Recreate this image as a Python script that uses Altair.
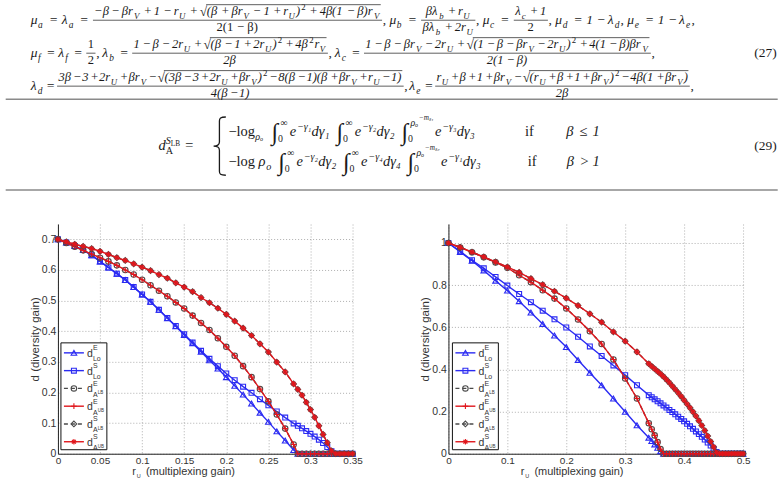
import altair as alt
import pandas as pd

SANS = "Liberation Sans"
SERIF = "Liberation Serif"

# ---------------- data: left panel ----------------
L_r_main = [0.00, 0.01, 0.02, 0.03, 0.04, 0.05, 0.06, 0.07, 0.08, 0.09, 0.10, 0.11, 0.12, 0.13, 0.14,
            0.15, 0.16, 0.17, 0.18, 0.19, 0.20, 0.21, 0.22, 0.23, 0.24, 0.25, 0.26, 0.27, 0.28]
L_r_tail = [0.285, 0.29, 0.295, 0.30, 0.305, 0.31, 0.315, 0.32, 0.325, 0.33, 0.335, 0.34, 0.345, 0.35]

L_E_Lo = [0.700, 0.690, 0.678, 0.665, 0.648, 0.628, 0.608, 0.588, 0.567, 0.544, 0.520, 0.496, 0.470, 0.442, 0.416,
          0.388, 0.361, 0.333, 0.305, 0.278, 0.250, 0.222, 0.193, 0.164, 0.134, 0.104, 0.073, 0.043, 0.012]
L_E_Lo_tail = [0, 0, 0, 0, 0, 0, 0, 0, 0, 0, 0, 0, 0, 0]
L_S_Lo = [0.700, 0.690, 0.678, 0.665, 0.648, 0.628, 0.608, 0.588, 0.567, 0.544, 0.520, 0.496, 0.470, 0.443, 0.417,
          0.390, 0.363, 0.336, 0.310, 0.286, 0.262, 0.240, 0.219, 0.199, 0.178, 0.158, 0.138, 0.118, 0.099]
L_S_Lo_tail = [0.091, 0.083, 0.074, 0.065, 0.056, 0.046, 0.035, 0.022, 0.008, 0, 0, 0, 0, 0]
L_E_A = [0.700, 0.688, 0.676, 0.664, 0.652, 0.640, 0.628, 0.615, 0.600, 0.585, 0.568, 0.550, 0.532, 0.514, 0.494,
         0.474, 0.451, 0.427, 0.404, 0.377, 0.349, 0.320, 0.286, 0.250, 0.211, 0.171, 0.128, 0.082, 0.030]
L_E_A_tail = [0, 0, 0, 0, 0, 0, 0, 0, 0, 0, 0, 0, 0, 0]
L_S_A = [0.700, 0.692, 0.684, 0.677, 0.670, 0.661, 0.651, 0.640, 0.631, 0.620, 0.609, 0.598, 0.585, 0.573, 0.558,
         0.544, 0.529, 0.510, 0.493, 0.475, 0.455, 0.433, 0.410, 0.386, 0.359, 0.332, 0.299, 0.267, 0.228]
L_S_A_tail = [0.210, 0.191, 0.168, 0.144, 0.119, 0.091, 0.063, 0.036, 0.009, 0, 0, 0, 0, 0]

# ---------------- data: right panel ----------------
R_r_main = [0.00, 0.02, 0.04, 0.06, 0.08, 0.10, 0.12, 0.14, 0.16, 0.18, 0.20, 0.22, 0.24, 0.26, 0.28, 0.30, 0.32, 0.34]
R_r_tail = [0.345, 0.35, 0.355, 0.36, 0.365, 0.37, 0.375, 0.38, 0.385, 0.39, 0.395, 0.40, 0.405, 0.41, 0.415, 0.42,
            0.425, 0.43, 0.435, 0.44, 0.445, 0.45, 0.455, 0.46, 0.465, 0.47, 0.475, 0.48, 0.485, 0.49, 0.495, 0.50]

R_E_Lo = [1.000, 0.957, 0.916, 0.870, 0.821, 0.774, 0.724, 0.670, 0.616, 0.561, 0.506, 0.445, 0.384, 0.325, 0.262,
          0.199, 0.135, 0.076]
R_E_Lo_tail = [0.060, 0.044, 0.028, 0.012, 0, 0, 0, 0, 0, 0, 0, 0, 0, 0, 0, 0,
               0, 0, 0, 0, 0, 0, 0, 0, 0, 0, 0, 0, 0, 0, 0, 0]
R_S_Lo = [1.000, 0.960, 0.918, 0.880, 0.839, 0.798, 0.758, 0.719, 0.679, 0.638, 0.599, 0.555, 0.509, 0.464, 0.419,
          0.373, 0.325, 0.278]
R_S_Lo_tail = [0.268, 0.258, 0.249, 0.239, 0.229, 0.219, 0.208, 0.198, 0.187, 0.176, 0.165, 0.154, 0.142, 0.130,
               0.118, 0.106, 0.093, 0.080, 0.067, 0.053, 0.039, 0.024, 0.008, 0, 0, 0, 0, 0, 0, 0, 0, 0]
R_E_A = [1.000, 0.979, 0.956, 0.932, 0.908, 0.882, 0.847, 0.814, 0.776, 0.736, 0.689, 0.637, 0.581, 0.521, 0.447,
         0.357, 0.262, 0.145]
R_E_A_tail = [0.116, 0.087, 0.055, 0.022, 0, 0, 0, 0, 0, 0, 0, 0, 0, 0, 0, 0,
              0, 0, 0, 0, 0, 0, 0, 0, 0, 0, 0, 0, 0, 0, 0, 0]
R_S_A = [1.000, 0.979, 0.957, 0.934, 0.910, 0.886, 0.861, 0.831, 0.802, 0.771, 0.738, 0.703, 0.664, 0.624, 0.578,
         0.534, 0.483, 0.427]
R_S_A_tail = [0.415, 0.403, 0.391, 0.379, 0.366, 0.352, 0.337, 0.321, 0.305, 0.289, 0.272, 0.254, 0.236, 0.218,
              0.199, 0.179, 0.157, 0.134, 0.110, 0.084, 0.058, 0.032, 0.006, 0, 0, 0, 0, 0, 0, 0, 0, 0]

L_xticks = [0, 0.05, 0.1, 0.15, 0.2, 0.25, 0.3, 0.35]
L_yticks = [0, 0.1, 0.2, 0.3, 0.4, 0.5, 0.6, 0.7]
R_xticks = [0, 0.1, 0.2, 0.3, 0.4, 0.5]
R_yticks = [0, 0.2, 0.4, 0.6, 0.8, 1.0]

LEGEND = [("E", "Lo", ""), ("S", "Lo", ""), ("E", "A", "LB"), ("E", "A", "UB"), ("S", "A", "LB"), ("S", "A", "UB")]

BLUE = "#2b2bf2"
RED = "#e0161c"
GRAY = "#4a4a4a"
PLUS = "M-1,0L1,0M0,-1L0,1"
STAR = "M-1,0L1,0M0,-1L0,1M-0.7,-0.7L0.7,0.7M-0.7,0.7L0.7,-0.7"
BRACE = ("M0.22,-1C0.03,-1 0,-0.96 0,-0.86L0,-0.14C0,-0.04 -0.08,0 -0.2,0"
         "C-0.08,0 0,0.04 0,0.14L0,0.86C0,0.96 0.03,1 0.22,1")
STYLES = [
    dict(color=BLUE, dash=None, shape="triangle-up", size=32),
    dict(color=BLUE, dash=None, shape="square", size=24),
    dict(color=GRAY, dash=[4, 3], shape="circle", size=30),
    dict(color=RED, dash=None, shape=PLUS, size=32),
    dict(color=GRAY, dash=[4, 3], shape="diamond", size=32),
    dict(color=RED, dash=None, shape=STAR, size=32),
]

ONE = pd.DataFrame({"k": [0]})
PW, PH = 295, 230
OX = 57.3  # page x of the left plot origin (origin of every vconcat row)


def ptxt(t, x, y, fs, color="#333", font=SANS):
    return alt.Chart(ONE).mark_text(text=t, font=font, fontSize=fs, align="left", baseline="alphabetic",
                                    color=color).encode(x=alt.value(x), y=alt.value(y))


def panel(rs, ds, xmax, ymax, xt, yt, anchor, ytitle_x, xtitle_x, dx):
    xaxis = alt.Axis(values=xt, format="~g", grid=True, gridDash=[1, 2], gridColor="#9a9a9a", gridWidth=0.8,
                     ticks=False, labelFont=SANS, labelFontSize=10, labelColor="#333", labelPadding=2,
                     labelFlush=False, labelOverlap=False, domainColor="#222", title=None)
    yaxis = alt.Axis(values=yt, format="~g", grid=True, gridDash=[1, 2], gridColor="#9a9a9a", gridWidth=0.8,
                     ticks=False, labelFont=SANS, labelFontSize=10.5, labelColor="#333", labelPadding=2,
                     labelFlush=False, labelOverlap=False, domainColor="#222",
                     title="d (diversity gain)", titleFont=SANS, titleFontSize=11.5, titleFontWeight="normal",
                     titleColor="#333", titleX=ytitle_x, titleY=PH / 2, titleAngle=270, titleAlign="center",
                     titleBaseline="middle")
    xenc = alt.X("r:Q", scale=alt.Scale(domain=[0, xmax], nice=False, zero=False), axis=xaxis)
    yenc = alt.Y("d:Q", scale=alt.Scale(domain=[0, ymax], nice=False, zero=False), axis=yaxis)
    layers = []
    for i, st in enumerate(STYLES):
        df = pd.DataFrame({"r": rs[i], "d": ds[i]})
        lk = dict(color=st["color"], strokeWidth=1.4)
        if st["dash"]:
            lk["strokeDash"] = st["dash"]
        layers.append(alt.Chart(df).mark_line(**lk).encode(x=xenc, y=yenc))
        layers.append(alt.Chart(df).mark_point(shape=st["shape"], size=st["size"], filled=False,
                                               color=st["color"], strokeWidth=1.1, opacity=1).encode(x=xenc, y=yenc))
    # legend box
    layers.append(alt.Chart(ONE).mark_rect(fill="white", stroke="#111", strokeWidth=1).encode(
        x=alt.value(3 + dx), x2=alt.value(49 + dx), y=alt.value(119), y2=alt.value(226)))
    for i, st in enumerate(STYLES):
        yi = 129 + 17.8 * i
        rk = dict(color=st["color"], strokeWidth=1.4)
        if st["dash"]:
            rk["strokeDash"] = st["dash"]
        layers.append(alt.Chart(ONE).mark_rule(**rk).encode(x=alt.value(6 + dx), x2=alt.value(26 + dx),
                                                            y=alt.value(yi)))
        layers.append(alt.Chart(ONE).mark_point(shape=st["shape"], size=st["size"], filled=False,
                                                color=st["color"], strokeWidth=1.1, opacity=1).encode(
            x=alt.value(16 + dx), y=alt.value(yi)))
        sup, sub, subsub = LEGEND[i]
        layers.append(ptxt("d", 29 + dx, yi + 4, 10.5))
        layers.append(ptxt(sup, 35 + dx, yi - 2.5, 7))
        layers.append(ptxt(sub, 35 + dx, yi + 8.5, 7))
        if subsub:
            layers.append(ptxt(subsub, 40 + dx, yi + 6, 4.5))
    # x title with subscript
    layers.append(ptxt("r", xtitle_x, PH + 21.5, 11))
    layers.append(ptxt("U", xtitle_x + 4.4, PH + 24, 5.5))
    layers.append(ptxt("(multiplexing gain)", xtitle_x + 13.6, PH + 21.5, 11))
    # transparent anchor defining the panel bounds
    layers.append(alt.Chart(ONE).mark_rule(strokeOpacity=0).encode(
        x=alt.value(anchor[0]), x2=alt.value(anchor[1]), y=alt.value(0), y2=alt.value(254)))
    return alt.layer(*layers).properties(width=PW, height=PH)


left = panel([L_r_main + L_r_tail] * 6,
             [L_E_Lo + L_E_Lo_tail, L_S_Lo + L_S_Lo_tail, L_E_A + L_E_A_tail, L_E_A + L_E_A_tail,
              L_S_A + L_S_A_tail, L_S_A + L_S_A_tail],
             0.35, 0.75, L_xticks, L_yticks, (-OX, 335.0), -22.3, 74.5, 0)
right = panel([R_r_main + R_r_tail] * 6,
              [R_E_Lo + R_E_Lo_tail, R_S_Lo + R_S_Lo_tail, R_E_A + R_E_A_tail, R_E_A + R_E_A_tail,
               R_S_A + R_S_A_tail, R_S_A + R_S_A_tail],
              0.5, 1.09, R_xticks, R_yticks, (-56.0, 332.7), -23.3, 72.5, 1)

# ---------------- header: equations (27) and (29) ----------------
SPACES = {" ": 0.25, "\u2009": 0.2, "\u2004": 0.3}
CW = {"(": 0.35, ")": 0.35, "+": 0.58, "−": 0.58,
      "=": 0.58, ",": 0.25, ".": 0.25, "β": 0.55, "λ": 0.52, "μ": 0.55, "ρ": 0.52, "γ": 0.47, "√": 0.55,
      "∞": 0.72, "∫": 0.28, "≤": 0.55, ">": 0.564, "r": 0.42, "a": 0.5, "b": 0.5, "c": 0.44, "d": 0.5,
      "e": 0.44, "f": 0.3, "g": 0.5, "i": 0.28, "l": 0.28, "o": 0.5, "m": 0.72, "n": 0.5, "A": 0.61,
      "U": 0.72, "V": 0.61, "S": 0.5, "L": 0.56, "B": 0.61, "E": 0.61, "ₒ": 0.33, "ₛ": 0.3, "₁": 0.33,
      "₂": 0.33, "₃": 0.33, "₄": 0.33, "²": 0.32}
SK = [1.0]  # stretch factor applied to every explicit space / gap


def tw(s, size):
    t = 0.0
    for c in s:
        if c in SPACES:
            t += SPACES[c] * SK[0]
        else:
            t += CW.get(c, 0.52)
    return t * size


def fix(s):
    unary = s.startswith("~")
    if unary:
        s = s[1:]
    out = ""
    for i, c in enumerate(s):
        if c in "+−" and not (unary and i == 0):
            out += "\u2009" + c + "\u2009"
        elif c == "=":
            out += "\u2004=\u2004"
        else:
            out += c
    return out


def T(s, it=True):
    return ("t", fix(s), it)


def SB(s, it=True):
    return ("sb", s, it)


def SP(s, it=True):
    return ("sp", s, it)


def FR(n, d):
    return ("fr", n, d)


def SQ(inner):
    return ("sq", inner)


def G(w):
    return ("g", w)


def INT(a, b, c=""):
    return ("int", a, b, c)


def put_text(out, x, y, txt, s, it):
    """place a string chunk by chunk; every space is an explicit advance"""
    chunk, cx = "", x
    for c in txt + " ":
        if c in SPACES:
            if chunk and out is not None:
                out.append(("txt", cx, y, chunk, s, it))
            x = cx + tw(chunk, s) + tw(c, s)
            chunk, cx = "", x
        else:
            chunk += c
    return tw(txt, s)


def render(runs, x, y, s, out):
    x0 = x
    for run in runs:
        k = run[0]
        if k == "t":
            x += put_text(out, x, y, run[1], s, run[2])
        elif k == "sb":
            fs = 0.7 * s
            if out is not None:
                out.append(("txt", x, y + 0.3 * s, run[1], fs, run[2]))
            x += tw(run[1], fs) + 0.09 * s
        elif k == "sp":
            fs = 0.7 * s
            if out is not None:
                out.append(("txt", x + 0.06 * s, y - 0.42 * s, run[1], fs, run[2]))
            x += tw(run[1], fs) + 0.1 * s
        elif k == "g":
            x += run[1] * s * SK[0]
        elif k == "fr":
            fs = 0.93 * s
            wn = render(run[1], 0, 0, fs, None)
            wd = render(run[2], 0, 0, fs, None)
            w = max(wn, wd) + 0.3 * s
            ya = y - 0.3 * s
            if out is not None:
                out.append(("bar", x + 0.05 * s, x + w - 0.05 * s, ya))
                render(run[1], x + (w - wn) / 2, ya - 0.38 * fs, fs, out)
                render(run[2], x + (w - wd) / 2, ya + 0.86 * fs, fs, out)
            x += w
        elif k == "sq":
            xi = x + 0.52 * s
            wi = render(run[1], xi + 0.03 * s, y, s, None)
            if out is not None:
                out.append(("txt", x, y + 0.08 * s, "√", 1.08 * s, False))
                render(run[1], xi + 0.03 * s, y, s, out)
                out.append(("bar", xi - 0.02 * s, xi + 0.06 * s + wi, y - 0.86 * s))
            x = xi + 0.06 * s + wi
        elif k == "int":
            a, b, c = run[1], run[2], run[3]
            ls = 0.68 * s
            if out is not None:
                out.append(("txt", x, y + 0.28 * s, "∫", 1.65 * s, False))
                out.append(("txt", x + 0.45 * s, y + 0.4 * s, a, ls, False))
                out.append(("txt", x + 0.62 * s, y - 0.72 * s, b, ls, b != "∞"))
                if c:
                    out.append(("txt", x + 0.62 * s + tw(b, ls), y - 1.12 * s, c, 0.5 * s, True))
            wl = max(0.45 * s + tw(a, ls), 0.62 * s + tw(b, ls) + (tw(c, 0.5 * s) if c else 0))
            x += wl + 0.15 * s
        elif k == "dsub":
            ls = 0.7 * s
            if out is not None:
                out.append(("txt", x, y + 0.3 * s, run[1], ls, False))
                out.append(("txt", x, y - 0.45 * s, run[2], ls, True))
                out.append(("txt", x + tw(run[2], ls), y - 0.3 * s, run[3], 0.5 * s, False))
            x += max(tw(run[1], ls), tw(run[2], ls) + tw(run[3], 0.5 * s)) + 0.05 * s
    return x - x0


def fit(runs, x0, y, s, x_end, out):
    """stretch the spacing of a line so that it ends at x_end"""
    SK[0] = 1.0
    w1 = render(runs, x0, y, s, None)
    SK[0] = 2.0
    w2 = render(runs, x0, y, s, None)
    SK[0] = max(0.6, 1.0 + (x_end - x0 - w1) / (w2 - w1))
    render(runs, x0, y, s, out)
    SK[0] = 1.0


S0 = 13.5
S29 = 14.5
EQ1 = [T("μ"), SB("a"), T("="), T("λ"), SB("a"), T("="),
       FR([T("~−β−βr"), SB("V"), T("+1−r"), SB("U"), T("+"),
           SQ([T("(β+βr"), SB("V"), T("−1+r"), SB("U"), T(")"), SP("2", False), T("+4β(1−β)r"), SB("V")])],
          [T("2(1−β)", False)]),
       T(",\u2009", False), T("μ"), SB("b"), T("="),
       FR([T("βλ"), SB("b"), T("+r"), SB("U")], [T("βλ"), SB("b"), T("+2r"), SB("U")]),
       T(",\u2009", False), T("μ"), SB("c"), T("="), FR([T("λ"), SB("c"), T("+1")], [T("2", False)]),
       T(",\u2009", False), T("μ"), SB("d"), T("=1−"), T("λ"), SB("d"),
       T(",\u2009", False), T("μ"), SB("e"), T("=1−"), T("λ"), SB("e"), T(",", False)]
EQ2 = [T("μ"), SB("f"), T("="), T("λ"), SB("f"), T("="), FR([T("1", False)], [T("2", False)]),
       T(",\u2009", False), T("λ"), SB("b"), T("="),
       FR([T("1−β−2r"), SB("U"), T("+"),
           SQ([T("(β−1+2r"), SB("U"), T(")"), SP("2", False), T("+4β"), SP("2", False), T("r"), SB("V")])],
          [T("2β")]),
       T(",\u2009", False), T("λ"), SB("c"), T("="),
       FR([T("1−β−βr"), SB("V"), T("−2r"), SB("U"), T("+"),
           SQ([T("(1−β−βr"), SB("V"), T("−2r"), SB("U"), T(")"), SP("2", False), T("+4(1−β)βr"), SB("V")])],
          [T("2(1−β)")]),
       T(",", False)]
EQ3 = [T("λ"), SB("d"), T("="),
       FR([T("3β−3+2r"), SB("U"), T("+βr"), SB("V"), T("−"),
           SQ([T("(3β−3+2r"), SB("U"), T("+βr"), SB("V"), T(")"), SP("2", False), T("−8(β−1)(β+βr"),
               SB("V"), T("+r"), SB("U"), T("−1)")])],
          [T("4(β−1)")]),
       T(",\u2009", False), T("λ"), SB("e"), T("="),
       FR([T("r"), SB("U"), T("+β+1+βr"), SB("V"), T("−"),
           SQ([T("(r"), SB("U"), T("+β+1+βr"), SB("V"), T(")"), SP("2", False), T("−4β(1+βr"), SB("V"),
               T(")")])],
          [T("2β")]),
       T(",", False)]
LHS29 = [T("d"), ("dsub", "A", "S", "LB"), T("=")]
EQ29a = [T("~−log", False), SB("ρₒ"), G(0.3), INT("0", "∞"), T("e"), SP("−γ₁"), T("dγ₁"), G(0.3),
         INT("0", "∞"), T("e"), SP("−γ₂"), T("dγ₂"), G(0.3), INT("0", "ρₒ", "−mₛ₁"), T("e"), SP("−γ₃"),
         T("dγ₃"), G(2.4), T("if", False), G(1.6), T("β ≤ 1")]
EQ29b = [T("~−log", False), G(0.17), T("ρ"), SB("o"), G(0.3), INT("0", "∞"), T("e"), SP("−γ₂"), T("dγ₂"),
         G(0.3), INT("0", "∞"), T("e"), SP("−γ₄"), T("dγ₄"), G(0.3), INT("0", "ρₒ", "−mₛ₂"), T("e"),
         SP("−γ₁"), T("dγ₃"), G(2.4), T("if", False), G(1.6), T("β > 1")]

items = []
fit(EQ1, 30, 24, S0, 695, items)
fit(EQ2, 30, 57, S0, 655, items)
fit(EQ3, 30, 90, S0, 694, items)
render(LHS29, 158, 150, S29, items)
fit(EQ29a, 228, 136, S29, 600, items)
fit(EQ29b, 228, 166, S29, 600, items)
items.append(("txt", 778 - tw("(27)", S0), 57, "(27)", S0, False))
items.append(("txt", 778 - tw("(29)", S0), 150, "(29)", S0, False))

txt_rows = [dict(x=i[1], y=i[2], text=i[3], size=i[4], it=i[5]) for i in items if i[0] == "txt"]
bar_rows = [dict(x=i[1], x2=i[2], y=i[3]) for i in items if i[0] == "bar"]
txt_df = pd.DataFrame(txt_rows)
bar_df = pd.DataFrame(bar_rows)

HW, HH = 781, 224
# header coordinates are page pixels; the row origin sits at page x = OX
sx = alt.Scale(domain=[0, HW], range=[-OX, HW - OX], nice=False, zero=False)
sy = alt.Scale(domain=[0, HH], range=[0, HH], nice=False, zero=False)

hdr_layers = [
    alt.Chart(ONE).mark_rule(strokeOpacity=0).encode(x=alt.value(-OX), x2=alt.value(HW - OX), y=alt.value(0),
                                                     y2=alt.value(HH)),
    alt.Chart(ONE).mark_rule(color="#8a8a8a", strokeWidth=1.5).encode(x=alt.value(5 - OX), x2=alt.value(778 - OX),
                                                                      y=alt.value(99)),
    alt.Chart(ONE).mark_rule(color="#8a8a8a", strokeWidth=1.5).encode(x=alt.value(5 - OX), x2=alt.value(778 - OX),
                                                                      y=alt.value(190)),
    alt.Chart(bar_df).mark_rule(color="#1a1a1a", strokeWidth=0.7).encode(
        x=alt.X("x:Q", scale=sx, axis=None), x2="x2:Q", y=alt.Y("y:Q", scale=sy, axis=None)),
    alt.Chart(txt_df[txt_df["it"]]).mark_text(align="left", baseline="alphabetic", font=SERIF,
                                              fontStyle="italic", color="#1a1a1a").encode(
        x=alt.X("x:Q", scale=sx, axis=None), y=alt.Y("y:Q", scale=sy, axis=None), text="text:N",
        size=alt.Size("size:Q", scale=None, legend=None)),
    alt.Chart(txt_df[~txt_df["it"]]).mark_text(align="left", baseline="alphabetic", font=SERIF,
                                               color="#1a1a1a").encode(
        x=alt.X("x:Q", scale=sx, axis=None), y=alt.Y("y:Q", scale=sy, axis=None), text="text:N",
        size=alt.Size("size:Q", scale=None, legend=None)),
    # big brace of equation (29)
    alt.Chart(ONE).mark_point(shape=BRACE, size=3400, filled=False, color="#1a1a1a", strokeWidth=1.3,
                              opacity=1).encode(x=alt.value(219 - OX), y=alt.value(146)),
]
header = alt.layer(*hdr_layers).properties(width=HW - 2 * OX, height=HH)

chart = alt.vconcat(header, alt.hconcat(left, right, spacing=0), spacing=0).properties(
    padding=0, background="white").configure_view(stroke=None)

chart.save("out.html", embed_options={"renderer": "svg", "actions": False})
